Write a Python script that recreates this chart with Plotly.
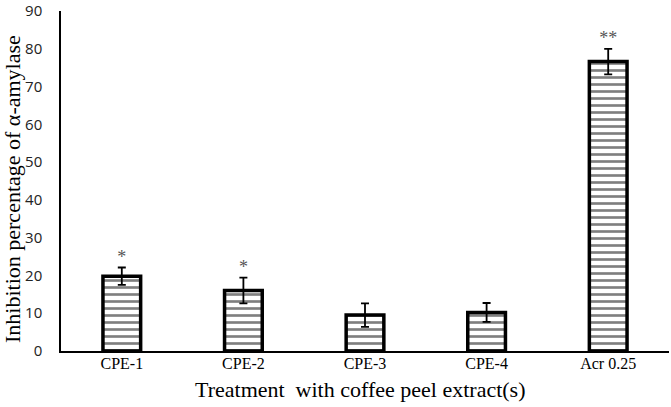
import plotly.graph_objects as go

categories = ["CPE-1", "CPE-2", "CPE-3", "CPE-4", "Acr 0.25"]
inhibition = [19.8, 16.0, 9.5, 10.2, 76.6]
errors = [2.3, 3.4, 3.1, 2.5, 3.4]
significance = ["*", "*", "", "", "**"]
x_title = "Treatment  with coffee peel extract(s)"
y_title = "Inhibition percentage of α-amylase"

serif = "Liberation Serif, Times New Roman, serif"
sans = "Open Sans, Liberation Sans, sans-serif"

fig = go.Figure()
fig.add_trace(go.Bar(
    x=categories, y=inhibition, width=0.31,
    marker=dict(color="white", line=dict(color="black", width=3.5),
                pattern=dict(shape="-", fgcolor="black", bgcolor="white", size=7, solidity=0.38)),
    error_y=dict(type="data", array=errors, visible=True, color="black", thickness=1.8, width=4),
    showlegend=False,
))
fig.add_trace(go.Scatter(
    x=categories, y=[v + e for v, e in zip(inhibition, errors)],
    mode="text", text=significance, textposition="top center",
    textfont=dict(family=serif, size=18, color="#555555"),
    showlegend=False, hoverinfo="skip",
))
fig.update_layout(
    width=671, height=407,
    margin=dict(l=61, r=2, t=11, b=56),
    paper_bgcolor="white", plot_bgcolor="white",
    font=dict(family=serif, color="black"),
    annotations=[
        dict(text=x_title, xref="paper", yref="paper", x=0.5, y=0, xanchor="center", yanchor="middle",
             yshift=-38, xshift=-5, showarrow=False, font=dict(family=serif, size=22)),
        dict(text=y_title, xref="paper", yref="paper", x=0, y=0.5, xanchor="center", yanchor="middle",
             xshift=-49, yshift=-8, textangle=-90, showarrow=False, font=dict(family=serif, size=22)),
    ],
)
fig.update_xaxes(
    showline=True, linecolor="black", linewidth=1.5, showgrid=False, ticks="",
    tickfont=dict(family=serif, size=16), range=[-0.5, 4.5], automargin=False,
    ticklabelstandoff=-3,
)
fig.update_yaxes(
    range=[0, 90], dtick=10, showline=True, linecolor="black", linewidth=1.5,
    showgrid=False, ticks="", zeroline=False, automargin=False,
    tickfont=dict(family=sans, size=15, color="#222222"), ticklabelstandoff=14,
)
fig.write_html("out.html", config={"displayModeBar": False},
               post_script="document.body.style.margin='0px';")
